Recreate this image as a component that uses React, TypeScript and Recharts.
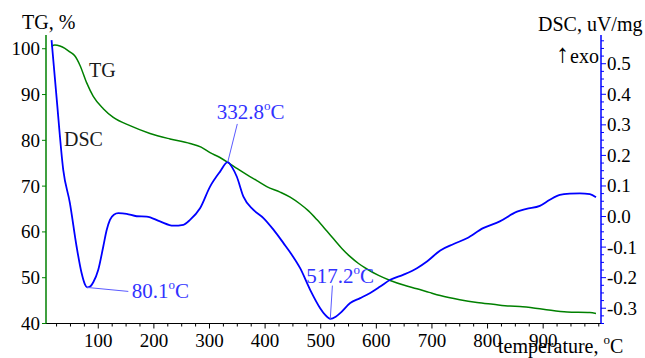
import React from "react";
import {
  ComposedChart,
  Line,
  XAxis,
  YAxis,
  ReferenceLine,
  ReferenceDot,
} from "recharts";

// ---- TG curve (temperature, %) ----
const tgTemps = [16, 22, 31, 40, 49, 58, 67, 79, 91, 109, 127, 157, 193, 229, 265, 285, 301, 318, 334, 350, 367, 385, 403, 427, 445, 463, 478, 493, 511, 523, 538, 553, 568, 583, 604, 625, 649, 673, 695, 715, 750, 781, 810, 840, 858, 900, 943, 984, 995];
const tgValues = [100.5, 100.8, 100.6, 100.1, 99.3, 98.4, 96.4, 92.6, 89.6, 86.9, 85.0, 83.2, 81.5, 80.3, 79.3, 78.5, 77.3, 76.3, 75.1, 73.8, 72.5, 71.2, 69.9, 68.7, 67.6, 66.1, 64.6, 62.7, 60.2, 58.5, 56.4, 54.6, 53.1, 51.9, 50.5, 49.4, 48.4, 47.6, 46.8, 46.1, 45.2, 44.6, 44.2, 43.8, 43.7, 43.1, 42.5, 42.4, 42.2];

// ---- DSC curve (temperature, uV/mg) ----
const dscTemps = [16, 25, 37, 49, 61, 70, 76, 80.1, 86, 91, 100, 109, 115, 121, 128, 136, 151, 169, 187, 211, 235, 253, 265, 283, 301, 319, 332.8, 341, 349, 361, 379, 397, 415, 433, 448, 463, 481, 499, 508, 517.2, 527, 535, 553, 571, 589, 607, 625, 649, 673, 691, 715, 739, 763, 792, 822, 853, 870, 894, 912, 930, 948, 966, 984, 995];
const dscValues = [0.577, 0.39, 0.153, 0.044, -0.098, -0.185, -0.222, -0.232, -0.228, -0.215, -0.174, -0.098, -0.045, -0.011, 0.006, 0.011, 0.009, 0.001, 0.0, -0.016, -0.03, -0.027, -0.011, 0.027, 0.098, 0.147, 0.178, 0.16, 0.131, 0.065, 0.022, -0.005, -0.043, -0.087, -0.125, -0.169, -0.24, -0.3, -0.322, -0.335, -0.328, -0.316, -0.283, -0.267, -0.25, -0.229, -0.207, -0.19, -0.169, -0.147, -0.111, -0.09, -0.071, -0.038, -0.016, 0.016, 0.025, 0.035, 0.055, 0.071, 0.075, 0.076, 0.073, 0.063];

// ---- Axis ticks ----
const xTicks = [25, 50, 75, 100, 125, 150, 175, 200, 225, 250, 275, 300, 325, 350, 375, 400, 425, 450, 475, 500, 525, 550, 575, 600, 625, 650, 675, 700, 725, 750, 775, 800, 825, 850, 875, 900, 925, 950, 975, 1000];
const xLabels = [100, 200, 300, 400, 500, 600, 700, 800, 900];
const tgTicks = [40, 50, 60, 70, 80, 90, 100];
const dscTicks = [-0.35, -0.325, -0.3, -0.275, -0.25, -0.225, -0.2, -0.175, -0.15, -0.125, -0.1, -0.075, -0.05, -0.025, 0, 0.025, 0.05, 0.075, 0.1, 0.125, 0.15, 0.175, 0.2, 0.225, 0.25, 0.275, 0.3, 0.325, 0.35, 0.375, 0.4, 0.425, 0.45, 0.475, 0.5, 0.525, 0.55, 0.575];
const dscLabels = [-0.3, -0.2, -0.1, 0, 0.1, 0.2, 0.3, 0.4, 0.5];

// ---- Peak annotations ----
const peakTemps = [80.1, 332.8, 517.2];
const peakValues = [-0.232, 0.178, -0.335];
const leaderTemps = [154, 350, 521];
const leaderValues = [-0.245, 0.303, -0.226];
const labelTemps = [160, 313, 474];
const labelValues = [-0.266, 0.319, -0.217];
const peakTexts = ["80.1", "332.8", "517.2"];

const tgData = tgTemps.map((t, i) => ({ t, v: tgValues[i] }));
const dscData = dscTemps.map((t, i) => ({ t, v: dscValues[i] }));

const FONT = "'Liberation Serif', 'Times New Roman', serif";
const GREEN = "#008000";
const BLUE = "#0000ff";
const ANN = "#3232ff";

const near = (a: number, b: number) => Math.abs(a - b) < 1e-6;

const XTick = (props: any) => {
  const { x, y, payload } = props;
  const v = payload.value;
  const major = xLabels.includes(v);
  return (
    <g>
      <line x1={x} y1={y} x2={x} y2={y + (major ? 5 : 3)} stroke="#000" strokeWidth={1} />
      {major && (
        <text x={x} y={y + 23} textAnchor="middle" fontFamily={FONT} fontSize={19} fill="#000">
          {v}
        </text>
      )}
    </g>
  );
};

const LeftTick = (props: any) => {
  const { x, y, payload } = props;
  return (
    <g>
      <line x1={x} y1={y} x2={x - 4} y2={y} stroke={GREEN} strokeWidth={1} />
      <text x={x - 6} y={y + 6.5} textAnchor="end" fontFamily={FONT} fontSize={19} fill="#000">
        {payload.value}
      </text>
    </g>
  );
};

const RightTick = (props: any) => {
  const { x, y, payload } = props;
  const v = payload.value;
  const lab = dscLabels.find((d) => near(d, v));
  const major = lab !== undefined;
  return (
    <g>
      <line x1={x} y1={y} x2={x + (major ? 5 : 3)} y2={y} stroke={BLUE} strokeWidth={1} />
      {major && (
        <text x={x + 6} y={y + 6.5} textAnchor="start" fontFamily={FONT} fontSize={19} fill="#000">
          {(lab as number).toFixed(1)}
        </text>
      )}
    </g>
  );
};

const makeLabel = (txt: string) => (p: any) => {
  const vb = p.viewBox || {};
  const x = (vb.x ?? 0) + (vb.width ?? 0) / 2;
  const y = (vb.y ?? 0) + (vb.height ?? 0) / 2;
  return (
    <text x={x} y={y} fontFamily={FONT} fontSize={21} fill={ANN} style={{ fontFamily: FONT }}>
      {txt}
      <tspan fontSize={13} dy={-9}>o</tspan>
      <tspan dy={9}>C</tspan>
    </text>
  );
};

export default function App() {
  return (
    <div style={{ position: "absolute", left: 0, top: 0, width: 645, height: 358, background: "#fff" }}>
      <ComposedChart
        width={645}
        height={358}
        margin={{ top: 35, right: 4, bottom: 0.5, left: 6 }}
        style={{ fontFamily: FONT }}
      >
        <XAxis
          xAxisId="x"
          dataKey="t"
          type="number"
          domain={[6, 1004]}
          allowDataOverflow
          ticks={xTicks}
          interval={0}
          height={34}
          tickSize={0}
          tickMargin={0}
          tickLine={false}
          axisLine={{ stroke: "#000", strokeWidth: 1 }}
          tick={<XTick />}
        />
        <YAxis
          yAxisId="tg"
          orientation="left"
          type="number"
          domain={[40, 103]}
          allowDataOverflow
          ticks={tgTicks}
          interval={0}
          width={40}
          tickSize={0}
          tickMargin={0}
          tickLine={false}
          axisLine={{ stroke: GREEN, strokeWidth: 1.5 }}
          tick={<LeftTick />}
        />
        <YAxis
          yAxisId="dsc"
          orientation="right"
          type="number"
          domain={[-0.35, 0.594]}
          allowDataOverflow
          ticks={dscTicks}
          interval={0}
          width={40}
          tickSize={0}
          tickMargin={0}
          tickLine={false}
          axisLine={{ stroke: BLUE, strokeWidth: 1.5 }}
          tick={<RightTick />}
        />
        <Line
          xAxisId="x"
          yAxisId="tg"
          data={tgData}
          dataKey="v"
          type="monotone"
          stroke={GREEN}
          strokeWidth={1.5}
          dot={false}
          isAnimationActive={false}
        />
        <Line
          xAxisId="x"
          yAxisId="dsc"
          data={dscData}
          dataKey="v"
          type="monotone"
          stroke={BLUE}
          strokeWidth={1.8}
          dot={false}
          isAnimationActive={false}
        />
        {peakTemps.map((t, i) => (
          <ReferenceLine
            key={"l" + i}
            xAxisId="x"
            yAxisId="dsc"
            segment={[
              { x: t, y: peakValues[i] },
              { x: leaderTemps[i], y: leaderValues[i] },
            ]}
            stroke="#5a5aff"
            strokeWidth={1}
          />
        ))}
        {peakTemps.map((t, i) => (
          <ReferenceDot
            key={"d" + i}
            xAxisId="x"
            yAxisId="dsc"
            x={labelTemps[i]}
            y={labelValues[i]}
            r={0}
            fill="none"
            stroke="none"
            label={makeLabel(peakTexts[i])}
          />
        ))}
      </ComposedChart>
      <svg
        width={645}
        height={358}
        style={{ position: "absolute", left: 0, top: 0, pointerEvents: "none" }}
      >
        <g fontFamily={FONT} fontSize={20} fill="#000">
          <text x={22} y={29}>TG, %</text>
          <text x={538} y={31}>DSC, uV/mg</text>
          <text x={556} y={62} fontSize={26}>↑</text>
          <text x={570} y={63}>exo</text>
          <text x={498} y={353}>
            temperature,
            <tspan fontSize={13} dy={-9} dx={5}>o</tspan>
            <tspan dy={9}>C</tspan>
          </text>
          <text x={89} y={77} fill="#1a1a1a">TG</text>
          <text x={64} y={146} fill="#1a1a1a">DSC</text>
        </g>
      </svg>
    </div>
  );
}
